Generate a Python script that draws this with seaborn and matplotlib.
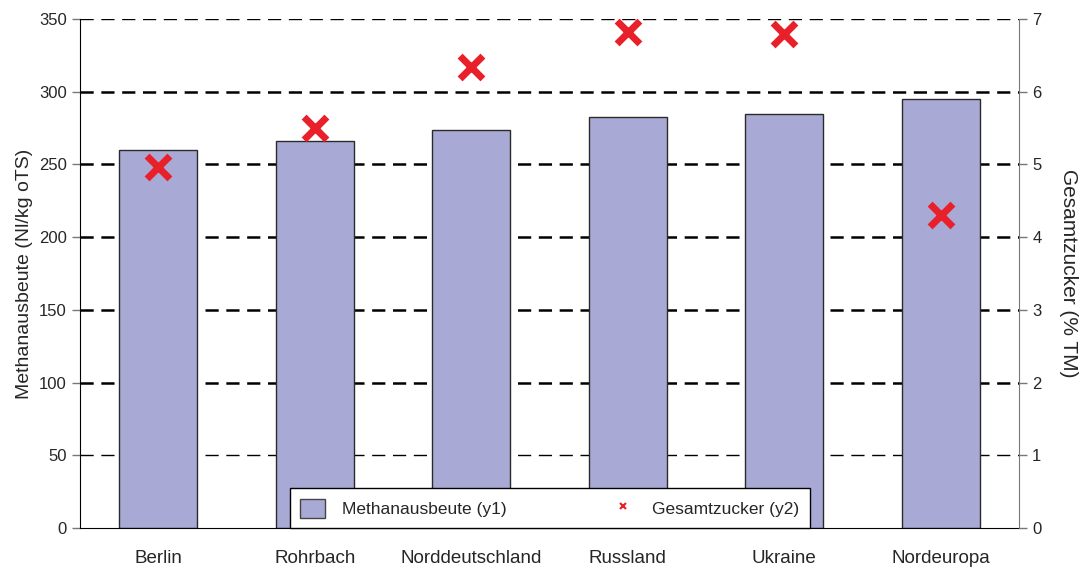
import numpy as np
import pandas as pd
import seaborn as sns
import matplotlib.pyplot as plt
from matplotlib.patches import Patch
from matplotlib.lines import Line2D

# values
regions = ["Berlin", "Rohrbach", "Norddeutschland", "Russland", "Ukraine", "Nordeuropa"]
methan = [260, 266, 273.5, 282.5, 284.5, 295]      # Nl/kg oTS (left axis)
zucker = [4.97, 5.5, 6.34, 6.82, 6.8, 4.31]         # % TM (right axis)
y1_ticks = [0, 50, 100, 150, 200, 250, 300, 350]
y2_ticks = [0, 1, 2, 3, 4, 5, 6, 7]

df = pd.DataFrame({"region": regions, "methan": methan, "zucker": zucker})

sns.set_style("white")
plt.rcParams['font.family'] = ['Liberation Sans', 'DejaVu Sans']
plt.rcParams['lines.scale_dashes'] = False

bar_col = "#a9a9d5"
red = "#e8202a"

fig = plt.figure(figsize=(10.82, 5.69), dpi=100)
ax1 = fig.add_axes([80 / 1082, 41 / 569, 939 / 1082, 509 / 569])

sns.barplot(data=df, x="region", y="methan", color=bar_col, saturation=1,
            edgecolor="#2a2a2a", linewidth=1.0, width=0.5, ax=ax1, zorder=2)
ax1.set_xlim(-0.5, 5.5)
ax1.set_ylim(0, 350)
ax1.set_yticks(y1_ticks)
ax1.set_xlabel("")
ax1.set_ylabel("Methanausbeute (Nl/kg oTS)", fontsize=14, labelpad=4)

# dashed horizontal grid behind the bars
ax1.set_axisbelow(True)
ax1.yaxis.grid(True, color="black", linestyle=(0, (9.5, 5.5)), linewidth=1.8)
for gl, v in zip(ax1.get_ygridlines(), y1_ticks):
    if v in (50, 350):
        gl.set_linewidth(1.0)
    if v == 0:
        gl.set_visible(False)

ax2 = ax1.twinx()
sns.scatterplot(data=df, x="region", y="zucker", marker="x", s=270,
                color=red, linewidth=5, ax=ax2, zorder=5, legend=False)
ax2.set_ylim(0, 7)
ax2.set_yticks(y2_ticks)
ax2.set_xlim(-0.5, 5.5)
ax2.set_ylabel("Gesamtzucker (% TM)", fontsize=15, rotation=270, labelpad=26)

for ax in (ax1, ax2):
    ax.spines["top"].set_visible(False)
    ax.tick_params(labelsize=12, length=6, width=1, color="#777777", direction="out")
ax1.spines["left"].set_color("black")
ax1.spines["bottom"].set_color("black")
ax1.spines["right"].set_visible(False)
ax2.spines["left"].set_visible(False)
ax2.spines["bottom"].set_visible(False)
ax2.spines["right"].set_color("#777777")
ax1.tick_params(axis="x", pad=9, length=7, labelsize=13.5)
ax1.tick_params(axis="y", left=True)
ax2.tick_params(axis="y", right=True)

handles = [Patch(facecolor=bar_col, edgecolor="#444444", label="Methanausbeute (y1)"),
           Line2D([], [], marker="x", color=red, linestyle="none", markersize=5,
                  markeredgewidth=1.5, label="Gesamtzucker (y2)")]
leg = ax2.legend(handles=handles, loc="lower left",
                 bbox_to_anchor=(210 / 939, 0, 520 / 939, 0.08), mode="expand",
                 ncol=2, fontsize=12.5, frameon=True, fancybox=False,
                 framealpha=1, facecolor="white",
                 edgecolor="black", borderaxespad=0, handlelength=1.4,
                 handleheight=1.3, columnspacing=2.0, handletextpad=1.0,
                 borderpad=0.6)
leg.get_frame().set_linewidth(1.0)
leg.set_zorder(10)

fig.savefig("out.png", dpi=100)
